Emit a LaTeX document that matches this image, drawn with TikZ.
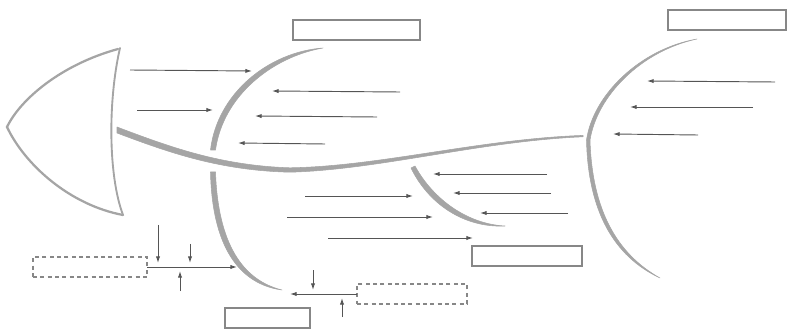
\documentclass[tikz,border=0pt]{standalone}
\usetikzlibrary{arrows.meta}
\definecolor{bonegray}{RGB}{165,165,165}
\definecolor{arrgray}{RGB}{85,85,85}
\definecolor{boxgray}{RGB}{135,135,135}
\tikzset{
  bone/.style={fill=bonegray, draw=bonegray, line width=0.4pt, line join=round},
  tailline/.style={draw=bonegray, line width=1.7pt, line cap=round},
  arr/.style={draw=arrgray, line width=0.7pt, -{Latex[length=5pt,width=3.2pt]}},
  labelbox/.style={draw=boxgray, line width=1pt, inner sep=0pt, outer sep=0pt, minimum height=15pt},
  dashbox/.style={draw=boxgray, line width=0.8pt, dash pattern=on 3pt off 2.5pt, inner sep=0pt, outer sep=0pt, minimum height=15pt}
}
\begin{document}
\begin{tikzpicture}[x=0.75pt,y=-0.75pt]
\useasboundingbox (0,0) rectangle (788,331);
% tail
\draw[tailline] (118,49) .. controls (60,65) and (20,100) .. (7,127)
               .. controls (25,165) and (70,205) .. (123,215);
\draw[tailline, line width=1.4pt] (120,48) .. controls (108,100) and (108,175) .. (123,215);
% spine
\path[bone] (117,127) .. controls (170,147) and (220,165.5) .. (290,167.8)
   .. controls (380,166.3) and (480,139) .. (583,135.4)
   -- (583,136.8) .. controls (480,141.2) and (380,169.7) .. (290,172.2)
   .. controls (220,170.5) and (170,153) .. (117,133) -- cycle;
% bone 1 upper
\path[bone] (210.5,150) .. controls (217,94) and (268,52) .. (323,48)
   .. controls (272,57) and (223,96) .. (215.5,150) -- cycle;
% bone 1 lower
\path[bone] (210.5,172) .. controls (212,245) and (238,284) .. (282,290)
   .. controls (242,280) and (218,243) .. (215.5,172) -- cycle;
% bone 2
\path[bone] (411,168) .. controls (428,203) and (463,228) .. (505,226)
   .. controls (467,224) and (433,199) .. (415,166) -- cycle;
% bone 3
\path[bone] (697,39) .. controls (640,49) and (593,95) .. (586.5,140)
   .. controls (588,210) and (613,256) .. (660,278)
   .. controls (617,254) and (592,210) .. (590,140)
   .. controls (597,96) and (641,51) .. (697,39) -- cycle;
% label boxes
\node[labelbox, minimum width=95.25pt] (b1) at (356.5,30) {};
\node[labelbox, minimum width=88.5pt] (b2) at (727,20) {};
\node[labelbox, minimum width=82.5pt] (b3) at (527,256) {};
\node[labelbox, minimum width=63.75pt] (b4) at (267.5,318) {};
\node[dashbox, minimum width=85.5pt] (d1) at (90,267) {};
\node[dashbox, minimum width=82.5pt] (d2) at (412,294) {};
% arrow coordinates
\coordinate (a1s) at (130,70);  \coordinate (a1e) at (252,71);
\coordinate (a2s) at (137,110); \coordinate (a2e) at (213,110);
\coordinate (a3s) at (400,92);  \coordinate (a3e) at (272,91);
\coordinate (a4s) at (377,117); \coordinate (a4e) at (255,116);
\coordinate (a5s) at (325,144); \coordinate (a5e) at (238,143);
\coordinate (a6s) at (775,82);  \coordinate (a6e) at (647,81);
\coordinate (a7s) at (753,107); \coordinate (a7e) at (630,107);
\coordinate (a8s) at (698,135); \coordinate (a8e) at (613,134);
\coordinate (a9s) at (547,174); \coordinate (a9e) at (433,174);
\coordinate (a10s) at (551,193); \coordinate (a10e) at (453,193);
\coordinate (a11s) at (568,213); \coordinate (a11e) at (480,213);
\coordinate (a12s) at (305,196); \coordinate (a12e) at (413,196);
\coordinate (a13s) at (287,217); \coordinate (a13e) at (433,217);
\coordinate (a14s) at (328,238); \coordinate (a14e) at (473,238);
\coordinate (c1e) at (237,267);
\coordinate (c2s) at (158,225); \coordinate (c2e) at (158,263);
\coordinate (c3s) at (190,244); \coordinate (c3e) at (190,263);
\coordinate (c4s) at (180,291); \coordinate (c4e) at (180,271);
\coordinate (e1e) at (290,294);
\coordinate (e2s) at (313,270); \coordinate (e2e) at (313,290);
\coordinate (e3s) at (342,317); \coordinate (e3e) at (342,298);
% arrows
\foreach \i in {1,...,14} { \draw[arr] (a\i s) -- (a\i e); }
\draw[arr] (d1.east) -- (c1e);
\draw[arr] (c2s) -- (c2e);
\draw[arr] (c3s) -- (c3e);
\draw[arr] (c4s) -- (c4e);
\draw[arr] (d2.west) -- (e1e);
\draw[arr] (e2s) -- (e2e);
\draw[arr] (e3s) -- (e3e);
\end{tikzpicture}
\end{document}
